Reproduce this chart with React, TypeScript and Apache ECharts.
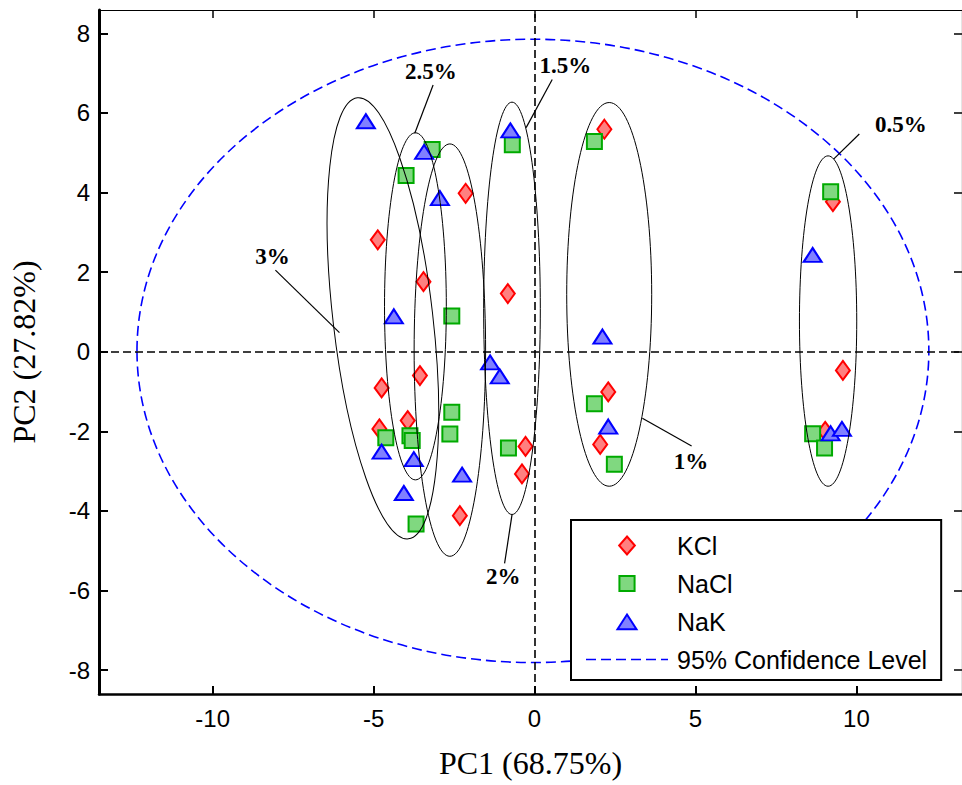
import React, { useEffect, useRef } from 'react';
import * as echarts from 'echarts';

// PC1 / PC2 scores
const kclPoints: number[][] = [
  [-2.14, 3.98], [-4.87, 2.81], [-3.45, 1.76], [-3.56, -0.6], [-4.75, -0.91], [-3.94, -1.73],
  [-4.82, -1.94], [-2.32, -4.12], [-0.83, 1.46], [-0.28, -2.38], [-0.39, -3.07], [2.17, 5.59],
  [2.29, -1.01], [2.04, -2.33], [9.27, 3.77], [9.58, -0.47], [9.03, -2.0],
];
const naclPoints: number[][] = [
  [-3.18, 5.08], [-3.99, 4.43], [-2.57, 0.9], [-2.57, -1.52], [-4.62, -2.16], [-3.87, -2.11],
  [-3.8, -2.23], [-2.63, -2.07], [-3.68, -4.33], [-0.69, 5.2], [-0.81, -2.42], [1.86, 5.28],
  [1.86, -1.31], [2.48, -2.83], [9.2, 4.02], [8.64, -2.06], [9.01, -2.42],
];
const nakPoints: number[][] = [
  [-5.24, 5.79], [-3.43, 5.02], [-2.94, 3.86], [-4.37, 0.89], [-1.38, -0.27], [-1.08, -0.62],
  [-4.75, -2.51], [-3.75, -2.7], [-2.25, -3.09], [-4.06, -3.55], [-0.75, 5.56], [2.11, 0.38],
  [2.29, -1.88], [8.64, 2.43], [9.2, -2.05], [9.55, -1.94],
];

// tick values
const xTickValues = [-10, -5, 0, 5, 10];
const yTickValues = [-8, -6, -4, -2, 0, 2, 4, 6, 8];

// group ellipses: [centerX, centerY, radiusX, radiusY, rotationDeg]
const groupEllipses: number[][] = [
  [-4.71, 0.84, 1.55, 5.58, 6.6],
  [-3.7, 1.14, 0.96, 4.36, 0],
  [-2.63, 0.04, 1.11, 5.18, 0],
  [-0.7, 1.09, 0.88, 5.18, 0],
  [2.32, 1.44, 1.32, 4.82, 0],
  [9.12, 0.77, 0.89, 4.15, 0],
];
const confidenceEllipse: number[][] = [[-0.05, 0.02, 12.3, 7.83, 0]];

// annotation labels: text position, leader line start, leader line end
const annotationTexts = ['3%', '2.5%', '1.5%', '0.5%', '1%', '2%'];
const annotationAnchors: number[][] = [
  [-8.14, 2.38, -8.05, 2.05, -6.06, 0.48],
  [-3.22, 7.03, -3.15, 6.7, -3.72, 5.49],
  [0.96, 7.18, 0.55, 6.84, -0.26, 5.63],
  [11.38, 5.7, 10.09, 5.47, 9.29, 4.84],
  [4.86, -2.77, 4.88, -2.37, 3.35, -1.67],
  [-0.97, -5.65, -0.93, -5.32, -0.7, -4.1],
];

const xMin = -13.53;
const xMax = 13.28;
const yMin = -8.6;
const yMax = 8.585;

const sans = '"Liberation Sans", Arial, sans-serif';
const serif = '"Liberation Serif", "Times New Roman", serif';
const dashIcon =
  'path://M0,0h10v1.6h-10zM15,0h10v1.6h-10zM30,0h10v1.6h-10zM45,0h10v1.6h-10zM60,0h10v1.6h-10zM75,0h7v1.6h-7z';
const diamondIcon = 'path://M7.85,0L15.7,9L7.85,18L0,9Z';
const squareIcon = 'path://M0,0M19,19M1.5,1.5h16v16h-16z';
const triangleIcon = 'path://M0,0M19,18M9.5,2L19,16.7L0,16.7Z';

export default function App() {
  const ref = useRef<HTMLDivElement>(null);
  useEffect(() => {
    if (!ref.current) return;
    const chart = echarts.init(ref.current, undefined, { renderer: 'svg' });

    const ellipseRender = (stroke: string, dash: any, width: number) => (params: any, api: any) => {
      const c = api.coord([api.value(0), api.value(1)]);
      const s = api.size([api.value(2), api.value(3)]);
      return {
        type: 'ellipse',
        x: c[0],
        y: c[1],
        rotation: (api.value(4) * Math.PI) / 180,
        shape: { cx: 0, cy: 0, rx: s[0], ry: s[1] },
        style: { fill: 'none', stroke, lineWidth: width, lineDash: dash },
      };
    };

    const option: any = {
      animation: false,
      backgroundColor: '#fff',
      grid: { left: 98, top: 10, width: 866, height: 684 },
      xAxis: [
        {
          type: 'value', min: xMin, max: xMax, position: 'bottom',
          name: 'PC1 (68.75%)', nameLocation: 'middle', nameGap: 53,
          nameTextStyle: { fontFamily: serif, fontSize: 32, color: '#000' },
          axisLine: { onZero: false, lineStyle: { color: '#000', width: 2.5 } },
          axisTick: { inside: true, length: 8, customValues: xTickValues, lineStyle: { color: '#000', width: 2 } },
          axisLabel: { margin: 12, fontFamily: sans, fontSize: 24, color: '#000', customValues: xTickValues },
          splitLine: { show: false },
        },
        {
          type: 'value', min: xMin, max: xMax, position: 'top',
          axisLine: { onZero: false, lineStyle: { color: '#000', width: 1.2 } },
          axisTick: { inside: true, length: 8, customValues: xTickValues, lineStyle: { color: '#000', width: 1.5 } },
          axisLabel: { show: false, customValues: xTickValues },
          splitLine: { show: false },
        },
      ],
      yAxis: [
        {
          type: 'value', min: yMin, max: yMax, position: 'left',
          name: 'PC2 (27.82%)', nameLocation: 'middle', nameGap: 59,
          nameTextStyle: { fontFamily: serif, fontSize: 32, color: '#000' },
          axisLine: { onZero: false, lineStyle: { color: '#000', width: 3 } },
          axisTick: { inside: true, length: 9, customValues: yTickValues, lineStyle: { color: '#000', width: 2 } },
          axisLabel: { margin: 9, fontFamily: sans, fontSize: 24, color: '#000', customValues: yTickValues },
          splitLine: { show: false },
        },
        {
          type: 'value', min: yMin, max: yMax, position: 'right',
          axisLine: { onZero: false, lineStyle: { color: '#000', width: 1.2 } },
          axisTick: { inside: true, length: 8, customValues: yTickValues, lineStyle: { color: '#000', width: 1.5 } },
          axisLabel: { show: false, customValues: yTickValues },
          splitLine: { show: false },
        },
      ],
      legend: {
        orient: 'vertical',
        left: 571,
        top: 520,
        padding: [13, 14, 8, 15],
        itemGap: 13,
        itemWidth: 82,
        itemHeight: 18,
        symbolKeepAspect: true,
        backgroundColor: '#fff',
        borderColor: '#000',
        borderWidth: 2,
        borderRadius: 0,
        textStyle: { fontFamily: sans, fontSize: 25, color: '#000', padding: [0, 0, 0, 4] },
        data: [
          { name: 'KCl', icon: diamondIcon },
          { name: 'NaCl', icon: squareIcon },
          { name: 'NaK', icon: triangleIcon },
          { name: '95% Confidence Level', icon: dashIcon, itemStyle: { color: '#0000ff', borderWidth: 0 } },
        ],
      },
      series: [
        {
          type: 'scatter', name: 'zero', data: [], z: 1, silent: true,
          markLine: {
            silent: true, symbol: ['none', 'none'], label: { show: false },
            lineStyle: { color: '#000', type: [8, 4], width: 1.6 },
            data: [{ xAxis: 0 }, { yAxis: 0 }],
          },
        },
        {
          type: 'line', name: '95% Confidence Level', data: [], symbol: 'none',
          lineStyle: { color: '#0000ff', type: [10, 5], width: 1.6 },
          itemStyle: { color: '#0000ff' },
        },
        {
          type: 'custom', name: 'confidence', data: confidenceEllipse, z: 2, silent: true,
          renderItem: ellipseRender('#0000ff', [10, 5], 1.6),
        },
        {
          type: 'scatter', name: 'KCl', data: kclPoints, symbol: 'diamond', symbolSize: [14, 19], z: 3,
          itemStyle: { color: '#ff8080', borderColor: '#ff0000', borderWidth: 2, opacity: 1 },
        },
        {
          type: 'scatter', name: 'NaCl', data: naclPoints, symbol: 'rect', symbolSize: [15, 15], z: 3,
          itemStyle: { color: '#80d880', borderColor: '#00aa00', borderWidth: 2, opacity: 1 },
        },
        {
          type: 'scatter', name: 'NaK', data: nakPoints, symbol: 'triangle', symbolSize: [18, 14], z: 3,
          itemStyle: { color: '#8080ff', borderColor: '#0000ff', borderWidth: 2, opacity: 1 },
        },
        {
          type: 'custom', name: 'groups', data: groupEllipses, z: 4, silent: true,
          renderItem: ellipseRender('#000', null, 1),
        },
        {
          type: 'custom', name: 'annotations', data: annotationAnchors, z: 4, silent: true,
          renderItem: (params: any, api: any) => {
            const t = api.coord([api.value(0), api.value(1)]);
            const p1 = api.coord([api.value(2), api.value(3)]);
            const p2 = api.coord([api.value(4), api.value(5)]);
            return {
              type: 'group',
              children: [
                { type: 'line', shape: { x1: p1[0], y1: p1[1], x2: p2[0], y2: p2[1] }, style: { stroke: '#000', lineWidth: 1.2 } },
                {
                  type: 'text', x: t[0], y: t[1],
                  style: {
                    text: annotationTexts[params.dataIndex], fill: '#000',
                    font: `bold 23px ${serif}`, align: 'center', verticalAlign: 'middle',
                  },
                },
              ],
            };
          },
        },
      ],
    };
    chart.setOption(option);
    return () => chart.dispose();
  }, []);
  return <div ref={ref} style={{ position: 'absolute', left: 0, top: 0, width: 962, height: 785 }} />;
}
